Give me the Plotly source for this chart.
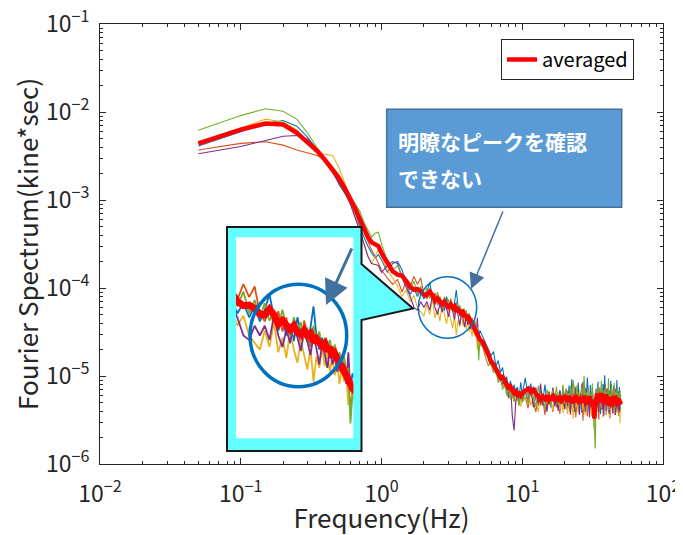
import plotly.graph_objects as go

# ---------------- data (frequency in Hz, spectrum in kine*sec) ----------------
freq_lo = [0.05, 0.10, 0.15, 0.20, 0.25, 0.30, 0.35, 0.40, 0.45, 0.50,
           0.55, 0.60, 0.65, 0.70, 0.75, 0.80, 0.85, 0.90, 0.95, 1.00]
freq_mid1 = [1.1, 1.2, 1.3, 1.4, 1.5, 1.6, 1.7, 1.8, 1.9, 2.0]
freq_mid2 = [2.1, 2.2, 2.3, 2.4, 2.5, 2.6, 2.7, 2.8, 2.9, 3.0,
             3.1, 3.2, 3.3, 3.4, 3.5, 3.6, 3.7, 3.8, 3.9, 4.0,
             4.1, 4.2, 4.3, 4.4, 4.5, 4.6, 4.7, 4.8, 4.9, 5.0]
freq_tail = [5.25, 5.5, 5.75, 6.0, 6.25, 6.5, 6.75, 7.0, 7.25, 7.5,
             7.75, 8.0, 8.25, 8.5, 8.75, 9.0, 9.25, 9.5, 9.75, 10.0]
freq_hi1 = [10.5, 11, 11.5, 12, 12.5, 13, 13.5, 14, 14.5, 15,
            15.5, 16, 16.5, 17, 17.5, 18, 18.5, 19, 19.5, 20]
freq_hi2 = [20.5, 21, 21.5, 22, 22.5, 23, 23.5, 24, 24.5, 25,
            25.5, 26, 26.5, 27, 27.5, 28, 28.5, 29, 29.5, 30,
            30.5, 31, 31.5, 32, 32.5, 33, 33.5, 34, 34.5, 35,
            35.5, 36, 36.5, 37, 37.5, 38, 38.5, 39, 39.5, 40,
            40.5, 41, 41.5, 42, 42.5, 43, 43.5, 44, 44.5, 45,
            45.5, 46, 46.5, 47, 47.5, 48, 48.5, 49, 49.5, 50]
freq = freq_lo + freq_mid1 + freq_mid2 + freq_tail + freq_hi1 + freq_hi2

blue = [
    4.1e-3, 5.9e-3, 7.4e-3, 8.0e-3, 6.9e-3, 5.1e-3, 3.7e-3, 2.9e-3, 2.1e-3, 1.5e-3,
    1.2e-3, 9.5e-4, 7.0e-4, 5.0e-4, 3.8e-4, 3.0e-4, 2.5e-4, 2.2e-4, 2.4e-4, 2.1e-4,
    1.5e-4, 1.9e-4, 2.0e-4, 1.6e-4, 1.1e-4, 8.5e-5, 1.0e-4, 8.0e-5, 9.5e-5, 7.5e-5,
    9.0e-5, 1.15e-4, 8.0e-5, 6.5e-5, 7.8e-5, 6.0e-5, 7.2e-5, 5.5e-5, 8.0e-5, 6.2e-5,
    7.0e-5, 5.4e-5, 6.8e-5, 9.5e-5, 6.0e-5, 4.8e-5, 5.8e-5, 4.6e-5, 5.5e-5, 4.2e-5,
    5.0e-5, 4.4e-5, 3.8e-5, 4.5e-5, 3.6e-5, 4.2e-5, 3.0e-5, 3.6e-5, 2.6e-5, 3.3e-5,
    2.8e-5, 2.4e-5, 2.0e-5, 1.7e-5, 1.9e-5, 1.3e-5, 1.5e-5, 1.1e-5, 1.25e-5, 8.5e-6,
    9.8e-6, 7.2e-6, 8.8e-6, 6.4e-6, 8.0e-6, 5.8e-6, 7.5e-6, 5.5e-6, 8.5e-6, 6.2e-6,
    9.5e-6, 6.0e-6, 8.2e-6, 5.4e-6, 7.4e-6, 4.6e-6, 6.8e-6, 5.2e-6, 8.0e-6, 4.8e-6,
    6.5e-6, 4.4e-6, 7.2e-6, 5.0e-6, 6.2e-6, 4.3e-6, 6.9e-6, 4.9e-6, 7.6e-6, 5.3e-6,
    6.5e-6, 4.2e-6, 7.8e-6, 5.0e-6, 9.2e-6, 6.0e-6, 3.9e-6, 7.0e-6, 4.7e-6, 8.4e-6,
    5.2e-6, 6.4e-6, 3.8e-6, 5.6e-6, 4.5e-6, 7.4e-6, 5.1e-6, 9.6e-6, 6.6e-6, 4.0e-6,
    7.9e-6, 5.5e-6, 6.1e-6, 4.3e-6, 3.0e-6, 5.3e-6, 7.2e-6, 4.8e-6, 8.6e-6, 5.0e-6,
    6.3e-6, 3.7e-6, 6.9e-6, 4.6e-6, 8.1e-6, 5.4e-6, 1.02e-5, 6.0e-6, 4.4e-6, 7.3e-6,
    5.7e-6, 3.9e-6, 6.8e-6, 4.9e-6, 8.8e-6, 5.2e-6, 6.5e-6, 4.1e-6, 7.7e-6, 5.6e-6,
    3.6e-6, 6.2e-6, 4.7e-6, 9.0e-6, 5.3e-6, 6.7e-6, 4.2e-6, 7.5e-6, 5.0e-6, 6.1e-6,
]
orange = [
    3.7e-3, 4.4e-3, 4.6e-3, 4.2e-3, 3.7e-3, 3.4e-3, 3.2e-3, 2.8e-3, 2.3e-3, 1.75e-3,
    1.3e-3, 1.0e-3, 7.6e-4, 5.6e-4, 4.3e-4, 3.5e-4, 2.7e-4, 2.3e-4, 1.9e-4, 1.6e-4,
    1.3e-4, 1.1e-4, 1.25e-4, 9.0e-5, 1.2e-4, 1.05e-4, 1.35e-4, 1.1e-4, 1.3e-4, 8.5e-5,
    7.5e-5, 9.5e-5, 7.0e-5, 8.8e-5, 6.4e-5, 8.0e-5, 5.6e-5, 7.4e-5, 6.6e-5, 5.2e-5,
    7.6e-5, 6.0e-5, 5.0e-5, 6.6e-5, 5.3e-5, 6.2e-5, 4.6e-5, 5.6e-5, 4.4e-5, 5.4e-5,
    4.0e-5, 4.8e-5, 3.9e-5, 3.4e-5, 4.1e-5, 3.0e-5, 3.5e-5, 2.7e-5, 2.0e-5, 2.4e-5,
    2.6e-5, 1.9e-5, 1.8e-5, 1.35e-5, 1.5e-5, 1.05e-5, 1.2e-5, 8.6e-6, 1.0e-5, 7.4e-6,
    8.5e-6, 6.3e-6, 7.6e-6, 5.9e-6, 5.2e-6, 7.0e-6, 5.6e-6, 4.6e-6, 6.4e-6, 5.1e-6,
    5.8e-6, 4.3e-6, 6.6e-6, 5.0e-6, 3.9e-6, 6.2e-6, 4.6e-6, 5.5e-6, 3.6e-6, 6.0e-6,
    4.7e-6, 5.3e-6, 3.9e-6, 6.4e-6, 4.4e-6, 5.7e-6, 3.7e-6, 5.9e-6, 4.5e-6, 6.3e-6,
    4.2e-6, 6.8e-6, 4.9e-6, 3.6e-6, 5.9e-6, 4.5e-6, 7.6e-6, 3.4e-6, 5.1e-6, 6.3e-6,
    4.0e-6, 5.6e-6, 8.2e-6, 3.1e-6, 6.0e-6, 4.7e-6, 5.3e-6, 3.5e-6, 6.4e-6, 4.4e-6,
    5.8e-6, 3.9e-6, 6.7e-6, 4.6e-6, 2.6e-6, 3.6e-6, 6.1e-6, 4.3e-6, 5.5e-6, 3.2e-6,
    7.4e-6, 5.0e-6, 4.1e-6, 6.6e-6, 3.8e-6, 5.7e-6, 4.5e-6, 8.0e-6, 3.6e-6, 5.2e-6,
    6.2e-6, 4.0e-6, 5.4e-6, 3.3e-6, 6.9e-6, 4.8e-6, 5.6e-6, 3.7e-6, 6.3e-6, 4.4e-6,
    5.1e-6, 7.2e-6, 3.9e-6, 5.8e-6, 4.3e-6, 6.5e-6, 3.5e-6, 5.3e-6, 4.6e-6, 5.0e-6,
]
yellow = [
    4.4e-3, 6.5e-3, 8.3e-3, 7.7e-3, 6.3e-3, 4.4e-3, 3.4e-3, 3.3e-3, 3.2e-3, 2.3e-3,
    1.55e-3, 1.0e-3, 6.5e-4, 4.6e-4, 3.2e-4, 2.3e-4, 1.9e-4, 2.3e-4, 2.7e-4, 2.3e-4,
    1.6e-4, 1.3e-4, 1.05e-4, 8.0e-5, 9.5e-5, 7.0e-5, 8.2e-5, 6.0e-5, 5.4e-5, 4.8e-5,
    6.5e-5, 5.0e-5, 7.4e-5, 4.6e-5, 5.8e-5, 4.2e-5, 6.6e-5, 4.8e-5, 3.9e-5, 5.6e-5,
    4.4e-5, 3.5e-5, 4.9e-5, 2.9e-5, 4.3e-5, 3.6e-5, 5.0e-5, 3.7e-5, 4.6e-5, 3.4e-5,
    4.3e-5, 3.2e-5, 3.9e-5, 2.8e-5, 3.6e-5, 2.9e-5, 3.3e-5, 2.0e-5, 2.9e-5, 2.2e-5,
    2.3e-5, 1.7e-5, 1.9e-5, 1.3e-5, 1.1e-5, 1.25e-5, 9.0e-6, 1.05e-5, 7.6e-6, 8.8e-6,
    6.6e-6, 7.8e-6, 5.4e-6, 7.0e-6, 6.0e-6, 4.8e-6, 6.8e-6, 5.6e-6, 4.5e-6, 6.6e-6,
    5.2e-6, 7.4e-6, 4.6e-6, 6.1e-6, 5.5e-6, 3.9e-6, 6.4e-6, 4.8e-6, 5.9e-6, 4.3e-6,
    6.8e-6, 5.0e-6, 4.1e-6, 6.0e-6, 4.9e-6, 6.6e-6, 4.2e-6, 5.4e-6, 3.8e-6, 6.2e-6,
    5.1e-6, 3.7e-6, 6.3e-6, 4.6e-6, 5.7e-6, 3.3e-6, 7.8e-6, 4.4e-6, 5.3e-6, 3.8e-6,
    6.5e-6, 4.9e-6, 5.8e-6, 4.1e-6, 8.4e-6, 3.6e-6, 5.5e-6, 4.5e-6, 6.9e-6, 4.0e-6,
    5.4e-6, 3.5e-6, 6.1e-6, 4.7e-6, 2.5e-6, 3.2e-6, 5.6e-6, 3.9e-6, 6.4e-6, 4.2e-6,
    5.2e-6, 7.0e-6, 4.3e-6, 5.9e-6, 3.4e-6, 6.6e-6, 4.8e-6, 5.5e-6, 3.7e-6, 7.3e-6,
    4.6e-6, 5.8e-6, 3.5e-6, 6.2e-6, 4.4e-6, 5.3e-6, 3.9e-6, 6.8e-6, 4.1e-6, 5.6e-6,
    3.6e-6, 6.0e-6, 4.9e-6, 5.2e-6, 3.8e-6, 6.4e-6, 4.5e-6, 5.7e-6, 2.9e-6, 5.2e-6,
]
purple = [
    3.35e-3, 4.05e-3, 4.75e-3, 5.3e-3, 5.4e-3, 4.9e-3, 3.8e-3, 2.8e-3, 2.05e-3, 1.55e-3,
    1.2e-3, 9.0e-4, 6.4e-4, 4.5e-4, 3.2e-4, 2.3e-4, 1.9e-4, 1.85e-4, 1.8e-4, 1.5e-4,
    1.8e-4, 2.0e-4, 1.9e-4, 1.3e-4, 1.0e-4, 8.0e-5, 6.0e-5, 5.6e-5, 7.0e-5, 6.0e-5,
    7.0e-5, 5.6e-5, 8.2e-5, 6.0e-5, 5.0e-5, 6.6e-5, 5.3e-5, 7.6e-5, 5.8e-5, 4.7e-5,
    6.4e-5, 5.5e-5, 4.4e-5, 6.0e-5, 4.9e-5, 3.8e-5, 5.2e-5, 4.5e-5, 3.6e-5, 4.8e-5,
    3.8e-5, 4.4e-5, 3.4e-5, 4.0e-5, 3.3e-5, 3.7e-5, 2.8e-5, 4.6e-5, 2.5e-5, 2.8e-5,
    2.2e-5, 2.0e-5, 1.6e-5, 1.4e-5, 1.2e-5, 1.3e-5, 9.5e-6, 1.0e-5, 8.0e-6, 9.2e-6,
    7.0e-6, 5.6e-6, 8.0e-6, 3.5e-6, 2.4e-6, 5.2e-6, 6.9e-6, 4.9e-6, 6.1e-6, 5.4e-6,
    6.8e-6, 5.3e-6, 7.6e-6, 4.4e-6, 6.1e-6, 5.0e-6, 8.2e-6, 4.6e-6, 5.8e-6, 3.9e-6,
    6.6e-6, 5.2e-6, 7.4e-6, 4.5e-6, 5.6e-6, 4.0e-6, 6.8e-6, 4.8e-6, 6.1e-6, 4.2e-6,
    7.2e-6, 4.6e-6, 5.9e-6, 3.8e-6, 6.7e-6, 5.0e-6, 4.3e-6, 7.5e-6, 4.9e-6, 5.8e-6,
    3.6e-6, 6.3e-6, 4.8e-6, 8.6e-6, 5.4e-6, 3.9e-6, 7.0e-6, 4.6e-6, 6.0e-6, 3.4e-6,
    5.7e-6, 4.4e-6, 6.6e-6, 5.1e-6, 3.2e-6, 3.7e-6, 6.2e-6, 4.5e-6, 5.9e-6, 3.9e-6,
    6.5e-6, 4.7e-6, 7.8e-6, 4.2e-6, 5.5e-6, 3.5e-6, 6.8e-6, 5.2e-6, 4.0e-6, 7.1e-6,
    4.8e-6, 6.1e-6, 3.7e-6, 5.6e-6, 4.3e-6, 8.0e-6, 5.0e-6, 3.8e-6, 6.4e-6, 4.6e-6,
    5.3e-6, 3.6e-6, 6.9e-6, 4.4e-6, 5.8e-6, 4.1e-6, 6.2e-6, 3.9e-6, 5.5e-6, 4.7e-6,
]
green = [
    6.2e-3, 9.1e-3, 1.09e-2, 1.02e-2, 8.3e-3, 5.7e-3, 3.9e-3, 2.95e-3, 2.4e-3, 1.9e-3,
    1.45e-3, 1.1e-3, 9.0e-4, 7.5e-4, 5.6e-4, 4.5e-4, 3.8e-4, 4.2e-4, 4.3e-4, 3.2e-4,
    2.0e-4, 1.6e-4, 1.8e-4, 1.4e-4, 1.1e-4, 9.5e-5, 1.2e-4, 8.5e-5, 1.05e-4, 8.0e-5,
    1.0e-4, 7.6e-5, 8.8e-5, 6.8e-5, 9.0e-5, 7.0e-5, 6.0e-5, 8.0e-5, 6.4e-5, 7.4e-5,
    5.8e-5, 6.8e-5, 5.2e-5, 7.0e-5, 5.6e-5, 6.4e-5, 4.8e-5, 5.8e-5, 4.9e-5, 5.6e-5,
    4.5e-5, 5.2e-5, 4.2e-5, 4.6e-5, 3.7e-5, 4.3e-5, 3.2e-5, 3.6e-5, 1.5e-5, 2.4e-5,
    2.1e-5, 1.6e-5, 1.3e-5, 1.5e-5, 1.1e-5, 1.15e-5, 8.4e-6, 9.6e-6, 7.0e-6, 8.2e-6,
    6.0e-6, 7.6e-6, 5.5e-6, 6.8e-6, 5.1e-6, 7.2e-6, 5.7e-6, 4.7e-6, 6.7e-6, 5.0e-6,
    6.6e-6, 4.9e-6, 7.1e-6, 5.5e-6, 4.5e-6, 7.8e-6, 5.2e-6, 6.4e-6, 4.1e-6, 7.0e-6,
    5.8e-6, 4.6e-6, 6.9e-6, 5.3e-6, 7.6e-6, 4.7e-6, 6.2e-6, 5.1e-6, 8.0e-6, 4.9e-6,
    6.9e-6, 5.3e-6, 4.4e-6, 7.7e-6, 5.6e-6, 9.0e-6, 6.4e-6, 4.7e-6, 7.9e-6, 5.2e-6,
    6.1e-6, 4.5e-6, 7.3e-6, 5.8e-6, 1.0e-5, 4.9e-6, 6.6e-6, 4.2e-6, 7.4e-6, 5.5e-6,
    6.3e-6, 4.6e-6, 8.2e-6, 4.0e-6, 2.8e-6, 1.5e-6, 6.8e-6, 4.9e-6, 7.6e-6, 5.4e-6,
    6.3e-6, 4.6e-6, 8.8e-6, 5.8e-6, 4.8e-6, 6.9e-6, 5.0e-6, 7.4e-6, 4.4e-6, 6.5e-6,
    5.3e-6, 9.4e-6, 4.1e-6, 6.2e-6, 5.1e-6, 7.8e-6, 4.7e-6, 6.0e-6, 5.5e-6, 8.3e-6,
    4.3e-6, 6.6e-6, 5.2e-6, 7.1e-6, 4.5e-6, 6.4e-6, 5.7e-6, 4.8e-6, 6.9e-6, 4.1e-6,
]
averaged = [
    4.4e-3, 6.3e-3, 7.4e-3, 7.2e-3, 5.8e-3, 4.5e-3, 3.6e-3, 2.8e-3, 2.2e-3, 1.75e-3,
    1.35e-3, 1.05e-3, 8.0e-4, 6.1e-4, 4.7e-4, 3.8e-4, 3.3e-4, 3.1e-4, 3.0e-4, 2.5e-4,
    1.9e-4, 1.55e-4, 1.42e-4, 1.38e-4, 1.2e-4, 1.03e-4, 9.6e-5, 9.7e-5, 9.2e-5, 8.4e-5,
    8.3e-5, 9.1e-5, 8.3e-5, 7.2e-5, 7.6e-5, 7.0e-5, 6.6e-5, 7.0e-5, 6.3e-5, 6.1e-5,
    6.5e-5, 6.0e-5, 6.2e-5, 5.4e-5, 5.7e-5, 5.4e-5, 5.1e-5, 5.3e-5, 4.7e-5, 5.0e-5,
    4.3e-5, 4.5e-5, 4.1e-5, 3.8e-5, 3.7e-5, 3.4e-5, 3.2e-5, 3.0e-5, 2.7e-5, 2.6e-5,
    2.4e-5, 2.1e-5, 1.75e-5, 1.45e-5, 1.35e-5, 1.2e-5, 1.05e-5, 9.6e-6, 9.8e-6, 8.6e-6,
    8.0e-6, 7.4e-6, 7.6e-6, 6.9e-6, 6.4e-6, 6.7e-6, 6.1e-6, 6.3e-6, 6.0e-6, 6.4e-6,
    6.8e-6, 7.2e-6, 6.6e-6, 7.0e-6, 6.3e-6, 6.0e-6, 5.4e-6, 5.8e-6, 5.5e-6, 6.0e-6,
    5.3e-6, 5.7e-6, 5.9e-6, 5.2e-6, 5.6e-6, 5.4e-6, 5.9e-6, 5.3e-6, 5.5e-6, 5.8e-6,
    5.6e-6, 5.1e-6, 5.9e-6, 5.3e-6, 4.9e-6, 5.7e-6, 5.2e-6, 6.1e-6, 5.0e-6, 5.5e-6,
    4.8e-6, 5.8e-6, 5.3e-6, 5.0e-6, 6.0e-6, 5.4e-6, 4.7e-6, 5.6e-6, 5.1e-6, 5.9e-6,
    4.9e-6, 5.4e-6, 4.5e-6, 5.2e-6, 3.3e-6, 4.6e-6, 5.3e-6, 6.3e-6, 5.5e-6, 5.0e-6,
    5.8e-6, 5.2e-6, 6.4e-6, 5.1e-6, 5.6e-6, 4.8e-6, 5.9e-6, 5.3e-6, 6.2e-6, 5.0e-6,
    5.5e-6, 4.6e-6, 5.3e-6, 5.8e-6, 4.9e-6, 5.5e-6, 4.5e-6, 5.2e-6, 5.9e-6, 4.8e-6,
    5.4e-6, 6.0e-6, 4.9e-6, 5.3e-6, 4.6e-6, 5.6e-6, 5.0e-6, 5.4e-6, 4.8e-6, 5.2e-6,
]

x_tick_vals = [1e-2, 1e-1, 1e0, 1e1, 1e2]
x_tick_text = ["10<sup>−2</sup>", "10<sup>−1</sup>", "10<sup>0</sup>", "10<sup>1</sup>", "10<sup>2</sup>"]
y_tick_vals = [1e-6, 1e-5, 1e-4, 1e-3, 1e-2, 1e-1]
y_tick_text = ["10<sup>−6</sup>", "10<sup>−5</sup>", "10<sup>−4</sup>", "10<sup>−3</sup>", "10<sup>−2</sup>", "10<sup>−1</sup>"]

series = [
    ("blue", blue, "#0072BD"),
    ("orange", orange, "#D95319"),
    ("yellow", yellow, "#EDB120"),
    ("purple", purple, "#7E2F8E"),
    ("green", green, "#77AC30"),
]

# ---------------- geometry (window pixels -> paper) ----------------
BODY = 8                       # default page margin around the figure
WIN_W, WIN_H = 683, 535
W, H = WIN_W - BODY, WIN_H - BODY
PL, PR, PT, PB = 100, 663, 24, 464      # plot area in window pixels
ML, MT = PL - BODY, PT - BODY
MR, MB = W - (PR - BODY), H - (PB - BODY)
PW, PH = PR - PL, PB - PT


def px(x):
    return (x - PL) / PW


def py(y):
    return (PB - y) / PH


FONT = "Noto Sans CJK JP, Noto Sans, sans-serif"
AXC = "#262626"

fig = go.Figure()

# main plot
for name, vals, color in series:
    fig.add_trace(go.Scatter(x=freq, y=vals, mode="lines", name=name,
                             line=dict(color=color, width=1.1),
                             showlegend=False, hoverinfo="skip"))
fig.add_trace(go.Scatter(x=freq, y=averaged, mode="lines", name="averaged",
                         line=dict(color="#FF0000", width=4.5), showlegend=True))

# callout frame layer (empty subplot, holds the callout shapes)
fig.add_trace(go.Scatter(x=[], y=[], xaxis="x2", yaxis="y2", showlegend=False,
                         hoverinfo="skip"))

# magnified inset (same data, zoomed)
for name, vals, color in series:
    fig.add_trace(go.Scatter(x=freq, y=vals, mode="lines", name=name + " (zoom)",
                             xaxis="x3", yaxis="y3",
                             line=dict(color=color, width=1.8),
                             showlegend=False, hoverinfo="skip"))
fig.add_trace(go.Scatter(x=freq, y=averaged, mode="lines", name="averaged (zoom)",
                         xaxis="x3", yaxis="y3",
                         line=dict(color="#FF0000", width=7),
                         showlegend=False, hoverinfo="skip"))

axis_common = dict(
    type="log", showgrid=False, zeroline=False,
    showline=True, linecolor=AXC, linewidth=1, mirror="allticks",
    ticks="inside", ticklen=6, tickwidth=1, tickcolor=AXC,
    minor=dict(ticks="inside", ticklen=3, tickwidth=1, tickcolor=AXC,
               dtick="D1", showgrid=False),
    tickfont=dict(family=FONT, size=23, color=AXC),
    ticklabeloverflow="allow",
)

fig.update_layout(
    width=W, height=H,
    margin=dict(l=ML, r=MR, t=MT, b=MB, autoexpand=False),
    paper_bgcolor="white", plot_bgcolor="rgba(0,0,0,0)",
    font=dict(family=FONT, color=AXC),
    xaxis=dict(**axis_common, range=[-2, 2], domain=[0, 1],
               tickmode="array", tickvals=x_tick_vals, ticktext=x_tick_text,
               ticklabelstandoff=9,
               title=dict(text="Frequency(Hz)", font=dict(family=FONT, size=26, color=AXC),
                          standoff=19)),
    yaxis=dict(**axis_common, range=[-6, -1], domain=[0, 1],
               tickmode="array", tickvals=y_tick_vals, ticktext=y_tick_text,
               ticklabelstandoff=5,
               title=dict(text="Fourier Spectrum(kine*sec)",
                          font=dict(family=FONT, size=26, color=AXC), standoff=12)),
    xaxis2=dict(domain=[px(222), px(418)], range=[222, 418], anchor="y2",
                visible=False, fixedrange=True),
    yaxis2=dict(domain=[py(456), py(222)], range=[456, 222], anchor="x2",
                visible=False, fixedrange=True),
    xaxis3=dict(type="log", domain=[px(236), px(353.3)], range=[0.1986, 0.7025],
                anchor="y3", visible=False, fixedrange=True),
    yaxis3=dict(type="log", domain=[py(438.3), py(237.3)], range=[-4.926, -3.549],
                anchor="x3", visible=False, fixedrange=True),
    legend=dict(x=px(501), y=py(39), xanchor="left", yanchor="top",
                bgcolor="white", bordercolor=AXC, borderwidth=1,
                font=dict(family=FONT, size=20, color="black")),
    shapes=[
        # cyan callout (drawn above the main curves, below the inset curves)
        dict(type="path", xref="x2", yref="y2", layer="below",
             path="M227,227 L361.5,227 L361.5,264 L413,308.5 L361.5,320 L361.5,451 L227,451 Z",
             fillcolor="#66FFFF", line=dict(color="#1a1a1a", width=2)),
        dict(type="rect", xref="x2", yref="y2", layer="below",
             x0=236, x1=353.3, y0=237.3, y1=438.3,
             fillcolor="white", line=dict(width=0)),
        # blue text box
        dict(type="rect", xref="paper", yref="paper", layer="above",
             x0=px(386.7), x1=px(621.7), y0=py(207.3), y1=py(109.3),
             fillcolor="#5B9BD5", line=dict(color="#41719C", width=1.5)),
        # circle in the main plot
        dict(type="circle", xref="paper", yref="paper", layer="above",
             x0=px(418.3), x1=px(476.7), y0=py(338.3), y1=py(276.7),
             line=dict(color="#0070C0", width=1.5)),
        # circle in the inset
        dict(type="circle", xref="paper", yref="paper", layer="above",
             x0=px(250), x1=px(346.7), y0=py(386.7), y1=py(284.3),
             line=dict(color="#0070C0", width=3.5)),
    ],
    annotations=[
        dict(text="<b>明瞭なピークを確認</b>", xref="paper", yref="paper",
             x=px(396), y=py(140.7), xanchor="left", yanchor="middle", showarrow=False,
             font=dict(family=FONT, size=21, color="white")),
        dict(text="<b>できない</b>", xref="paper", yref="paper",
             x=px(396), y=py(178), xanchor="left", yanchor="middle", showarrow=False,
             font=dict(family=FONT, size=21, color="white")),
        dict(text="", xref="paper", yref="paper", x=px(471), y=py(289),
             ax=32.5, ay=-79, showarrow=True, arrowhead=2, arrowsize=2.1,
             arrowwidth=1.5, arrowcolor="#41719C"),
        dict(text="", xref="paper", yref="paper", x=px(326), y=py(305),
             ax=26.5, ay=-58, showarrow=True, arrowhead=2, arrowsize=1.65,
             arrowwidth=3, arrowcolor="#41719C"),
    ],
)

fig.write_html("out.html")
